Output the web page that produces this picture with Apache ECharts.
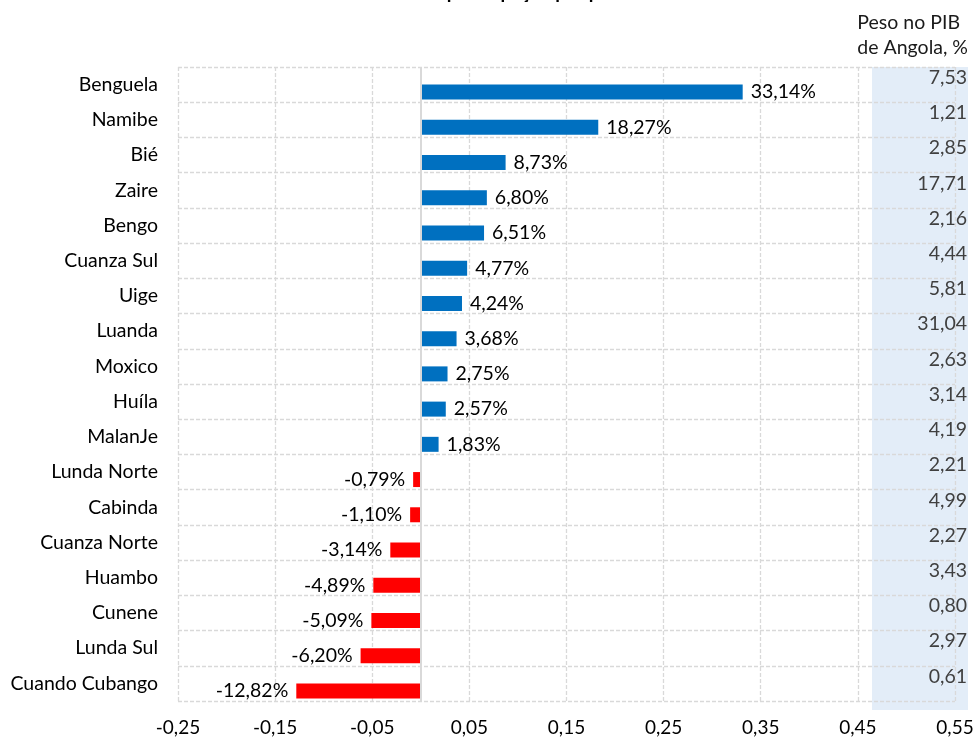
<!DOCTYPE html>
<html>
<head>
<meta charset="utf-8">
<script src="https://cdn.jsdelivr.net/npm/echarts@6/dist/echarts.min.js"></script>
<style>
  html, body { margin: 0; padding: 0; background: #fff; }
  #main { width: 977px; height: 737px; }
</style>
</head>
<body>
<div id="main"></div>
<script>
// dados
var provincias = ['Benguela', 'Namibe', 'Bié', 'Zaire', 'Bengo', 'Cuanza Sul', 'Uige', 'Luanda',
    'Moxico', 'Huíla', 'MalanJe', 'Lunda Norte', 'Cabinda', 'Cuanza Norte', 'Huambo', 'Cunene',
    'Lunda Sul', 'Cuando Cubango'];
var variacao = [0.3314, 0.1827, 0.0873, 0.0680, 0.0651, 0.0477, 0.0424, 0.0368, 0.0275, 0.0257,
    0.0183, -0.0079, -0.0110, -0.0314, -0.0489, -0.0509, -0.0620, -0.1282];
var pesoPIB = ['7,53', '1,21', '2,85', '17,71', '2,16', '4,44', '5,81', '31,04', '2,63', '3,14',
    '4,19', '2,21', '4,99', '2,27', '3,43', '0,80', '2,97', '0,61'];
var xMin = -0.25, xMax = 0.55, xStep = 0.1;

var fonte = 'Lato, "Noto Sans", sans-serif';
var gridLine = {show: true, lineStyle: {color: '#d9d9d9', width: 1.3, type: [4, 2]}};

function fmt(v, dec){
    return v.toFixed(dec).replace('.', ',');
}

var barData = [];
variacao.forEach(function(v){
    barData.push({
        value: v,
        itemStyle: {color: v < 0 ? '#ff0000' : '#0070c0'},
        label: {position: v < 0 ? 'left' : 'right'}
    });
});

var myChart = echarts.init(document.getElementById('main'));

var option = {
    animation: false,
    textStyle: {fontFamily: fonte},
    title: {
        text: 'Crescimento da participação por província',
        left: 'center',
        top: -17,
        padding: 0,
        textStyle: {fontFamily: fonte, fontSize: 19, fontWeight: 'bold', color: '#000'}
    },
    graphic: [
        {type: 'rect', z: -10, shape: {x: 872, y: 67, width: 96, height: 643}, style: {fill: '#e3edf8'}},
        {type: 'text', right: 9, top: 10,
         style: {text: 'Peso no PIB\nde Angola, %', align: 'right', fill: '#1a1a1a',
                 font: '19.5px ' + fonte, lineHeight: 25}}
    ],
    grid: {left: 178, right: 22, top: 67, bottom: 35, containLabel: false},
    xAxis: {
        type: 'value',
        min: xMin,
        max: xMax,
        interval: xStep,
        axisLine: {show: false},
        axisTick: {show: false},
        splitLine: gridLine,
        axisLabel: {
            margin: 17,
            fontSize: 19,
            color: '#000',
            fontFamily: fonte,
            formatter: function(v){ return fmt(v, 2); }
        }
    },
    yAxis: [
        {
            type: 'category',
            data: provincias,
            inverse: true,
            axisLine: {show: false},
            axisTick: {show: false},
            splitLine: gridLine,
            axisLabel: {margin: 20, fontSize: 19.5, color: '#000', fontFamily: fonte}
        },
        {
            type: 'category',
            data: pesoPIB,
            inverse: true,
            position: 'right',
            axisLine: {show: false},
            axisTick: {show: false},
            splitLine: {show: false},
            axisLabel: {margin: 12, align: 'right', verticalAlign: 'bottom', lineHeight: 14,
                        fontSize: 19.5, color: '#404040', fontFamily: fonte}
        }
    ],
    series: [
        {
            // série vazia para deslocar as barras como no Excel
            type: 'bar',
            data: provincias.map(function(){ return null; }),
            barWidth: 15,
            barGap: '0%',
            silent: true
        },
        {
            type: 'bar',
            data: barData,
            barWidth: 15,
            barGap: '0%',
            label: {
                show: true,
                distance: 8,
                fontSize: 19.5,
                color: '#000',
                fontFamily: fonte,
                formatter: function(p){ return fmt(p.value * 100, 2) + '%'; }
            },
            markLine: {
                silent: true,
                symbol: 'none',
                label: {show: false},
                lineStyle: {color: '#d9d9d9', width: 2, type: 'solid'},
                data: [{xAxis: 0}]
            }
        }
    ]
};

myChart.setOption(option);
</script>
</body>
</html>
